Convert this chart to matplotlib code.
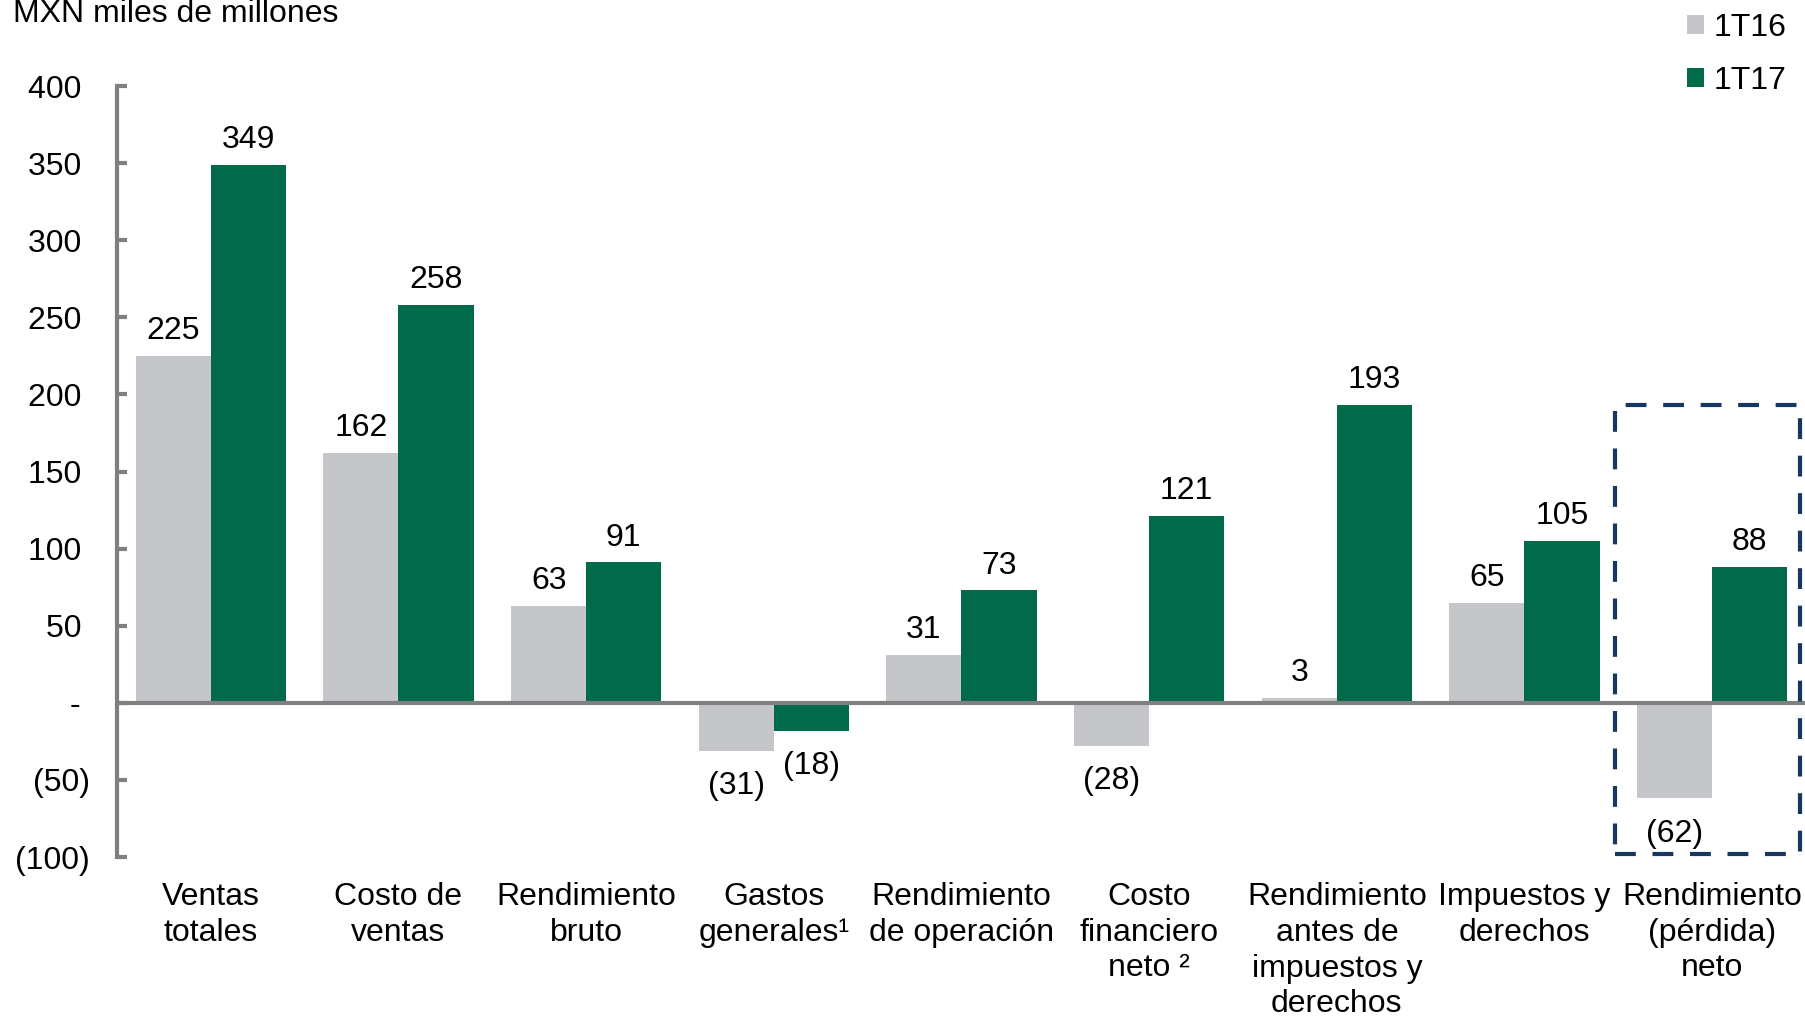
"""
Resultados 1T16 vs 1T17 - grouped bar chart
"""

import matplotlib
matplotlib.use('Agg')
import matplotlib.pyplot as plt
import numpy as np
from matplotlib.patches import Patch, Rectangle
from matplotlib.ticker import FuncFormatter

plt.rcParams['font.family'] = ['Liberation Sans', 'DejaVu Sans']

# Data
categories = ['Ventas\ntotales', 'Costo de\nventas', 'Rendimiento\nbruto',
              'Gastos\ngenerales¹', 'Rendimiento\nde operación',
              'Costo\nfinanciero\nneto ²',
              'Rendimiento\nantes de\nimpuestos y\nderechos',
              'Impuestos y\nderechos', 'Rendimiento\n(pérdida)\nneto']
q1_16 = [225, 162, 63, -31, 31, -28, 3, 65, -62]
q1_17 = [349, 258, 91, -18, 73, 121, 193, 105, 88]
series_labels = ['1T16', '1T17']
y_ticks = [-100, -50, 0, 50, 100, 150, 200, 250, 300, 350, 400]

gray = '#C5C6CA'
green = '#006A4A'
axis_gray = '#808080'
navy = '#17375E'
FS = 23


def fmt(v):
    if v < 0:
        return f'({abs(v):.0f})'
    return f'{v:.0f}'


def tick_fmt(v, pos):
    # accounting style: positives leave room for the closing parenthesis
    if v == 0:
        return '- '
    if v < 0:
        return fmt(v)
    return fmt(v) + ' '


fig = plt.figure(figsize=(18.06, 10.18), dpi=100)
ax = fig.add_axes([117 / 1806, 1 - 857 / 1018, 1 - 117 / 1806, (857 - 86) / 1018])

x = np.arange(len(categories))
w = 0.4
b1 = ax.bar(x - w / 2, q1_16, w, color=gray, label=series_labels[0], zorder=2)
b2 = ax.bar(x + w / 2, q1_17, w, color=green, label=series_labels[1], zorder=2)

for bars, vals in ((b1, q1_16), (b2, q1_17)):
    for bar, v in zip(bars, vals):
        cx = bar.get_x() + bar.get_width() / 2
        if v >= 0:
            ax.annotate(fmt(v), (cx, v), xytext=(0, 7), textcoords='offset points',
                        ha='center', va='bottom', fontsize=FS)
        else:
            ax.annotate(fmt(v), (cx, v), xytext=(0, -14.5), textcoords='offset points',
                        ha='center', va='top', fontsize=FS)

ax.axhline(0, color=axis_gray, lw=3, zorder=3)

ax.set_xlim(-0.5, 8.5)
ax.set_ylim(-100, 400)
ax.set_yticks(y_ticks)
ax.yaxis.set_major_formatter(FuncFormatter(tick_fmt))
ax.set_xticks(x)
ax.set_xticklabels(categories, fontsize=FS, linespacing=1.25)
ax.tick_params(axis='x', length=0, pad=18)
ax.tick_params(axis='y', direction='in', length=7, width=3, color=axis_gray,
               labelsize=FS, pad=19.5)

for s in ('top', 'right', 'bottom'):
    ax.spines[s].set_visible(False)
ax.spines['left'].set_color(axis_gray)
ax.spines['left'].set_linewidth(3)

# dashed highlight box around the last group
last = len(categories) - 1
ax.add_patch(Rectangle((last - 0.52, -98), 0.99, 291, fill=False, edgecolor=navy,
                       lw=3, linestyle=(0, (5, 4)), clip_on=False, zorder=4))

fig.text(13 / 1806, 1 - 22 / 1018, 'MXN miles de millones', fontsize=FS,
         ha='left', va='baseline')

handles = [Patch(facecolor=gray, label=series_labels[0]),
           Patch(facecolor=green, label=series_labels[1])]
fig.legend(handles=handles, loc='upper left', bbox_to_anchor=(1687 / 1806, 1 - 13 / 1018),
           frameon=False, fontsize=FS, handlelength=0.54, handleheight=0.54,
           handletextpad=0.3, labelspacing=0.72, borderpad=0, borderaxespad=0)

plt.savefig('out.png', dpi=100)
plt.close()
